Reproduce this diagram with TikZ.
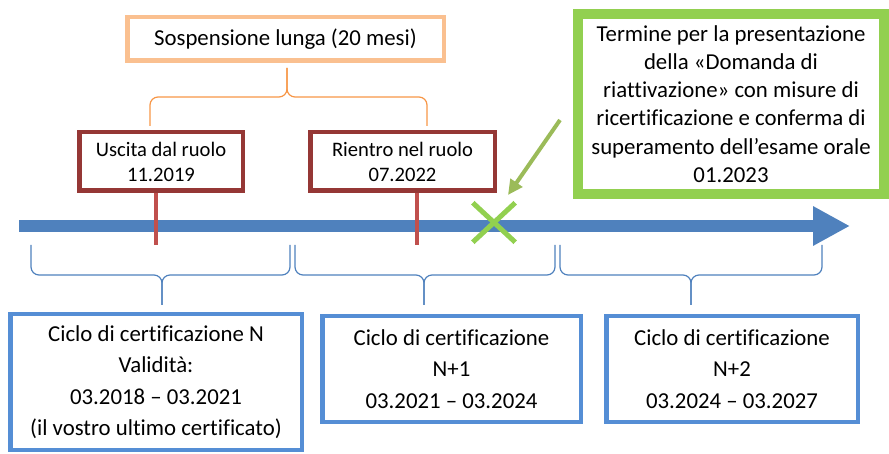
\documentclass[tikz,border=0pt]{standalone}
\usepackage{fontspec}
\setmainfont{Carlito}[Ligatures=NoCommon]
\usetikzlibrary{arrows.meta}
\definecolor{orangebox}{HTML}{FAC090}
\definecolor{orangebrace}{HTML}{F79646}
\definecolor{redbox}{HTML}{953735}
\definecolor{redtick}{HTML}{C0504D}
\definecolor{timeline}{HTML}{4F81BD}
\definecolor{bluebox}{HTML}{558ED5}
\definecolor{greenbox}{HTML}{92D050}
\definecolor{greenarrow}{HTML}{9BBB59}
\begin{document}
\begin{tikzpicture}[x=1pt, y=-1pt,
        cycle/.style={draw=bluebox, line width=4.5pt, inner sep=0pt, align=center, font=\fontsize{22.8}{31.5}\selectfont},
        event/.style={draw=redbox, line width=4.5pt, inner sep=0pt, align=center, font=\fontsize{20.6}{25}\selectfont},
        span/.style={draw=orangebox, line width=4.5pt, inner sep=0pt, align=center, font=\fontsize{22.8}{27.7}\selectfont},
        deadline/.style={draw=greenbox, line width=10pt, inner sep=0pt, align=center, font=\fontsize{22.8}{28.2}\selectfont},
        bbrace/.style={draw=timeline, line width=1.2pt, rounded corners=8pt},
        obrace/.style={draw=orangebrace, line width=1.2pt, rounded corners=8pt},
        tick/.style={draw=redtick, line width=4pt},
        cross/.style={draw=greenbox, line width=5pt}]
    \useasboundingbox (0,0) rectangle (889,454);

    % timeline
    \coordinate (tstart) at (19,226);
    \coordinate (tend) at (850,226);
    \draw[timeline, line width=12.5pt, -{Triangle[length=37pt,width=37pt]}] (tstart) -- (tend);

    % suspension
    \node[span, minimum width=316.5pt, minimum height=43.5pt] (sosp) at (285.5,39) {Sospensione lunga (20 mesi)};
    \draw[obrace] (150,126) -- (150,97) -- (287,97) -- (287,68);
    \draw[obrace] (287,68) -- (287,97) -- (427,97) -- (427,126);

    \node[event, minimum width=163.5pt, minimum height=58.5pt] (uscita) at (161,161.5) {Uscita dal ruolo\\11.2019};
    \node[event, minimum width=184.5pt, minimum height=58.5pt] (rientro) at (402.5,161.5) {Rientro nel ruolo\\07.2022};
    \coordinate (tick1) at (156,245);
    \coordinate (tick2) at (417,245);
    \draw[tick] (uscita.south -| tick1) -- (tick1);
    \draw[tick] (rientro.south -| tick2) -- (tick2);

    % deadline
    \node[deadline, minimum width=306pt, minimum height=180pt] (termine) at (731,104) {Termine per la presentazione\\della «Domanda di\\riattivazione» con misure di\\ricertificazione e conferma di\\superamento dell’esame orale\\01.2023};
    \node[minimum width=42pt, minimum height=39pt, inner sep=0pt] (xmark) at (494,222.5) {};
    \draw[cross] (xmark.north west) -- (xmark.south east);
    \draw[cross] (xmark.north east) -- (xmark.south west);
    \coordinate (gstart) at (560,120);
    \coordinate (gtip) at (508,195);
    \draw[greenarrow, line width=4pt, -{Triangle[length=15pt,width=14pt]}] (gstart) -- (gtip);

    % certification cycles
    \draw[bbrace] (31,245) -- (31,275) -- (162,275) -- (162,305);
    \draw[bbrace] (162,305) -- (162,275) -- (290,275) -- (290,245);
    \draw[bbrace] (295,245) -- (295,275) -- (424,275) -- (424,305);
    \draw[bbrace] (424,305) -- (424,275) -- (555,275) -- (555,245);
    \draw[bbrace] (560,245) -- (560,275) -- (691,275) -- (691,305);
    \draw[bbrace] (691,305) -- (691,275) -- (822,275) -- (822,245);

    \node[cycle, minimum width=291.5pt, minimum height=135.5pt] (cicloN) at (156,382) {Ciclo di certificazione N\\Validità:\\03.2018 – 03.2021\\(il vostro ultimo certificato)};
    \node[cycle, minimum width=258.5pt, minimum height=105.5pt] (cicloN1) at (451.5,369) {Ciclo di certificazione\\N+1\\03.2021 – 03.2024};
    \node[cycle, minimum width=251.5pt, minimum height=105.5pt] (cicloN2) at (732,369) {Ciclo di certificazione\\N+2\\03.2024 – 03.2027};
\end{tikzpicture}
\end{document}
